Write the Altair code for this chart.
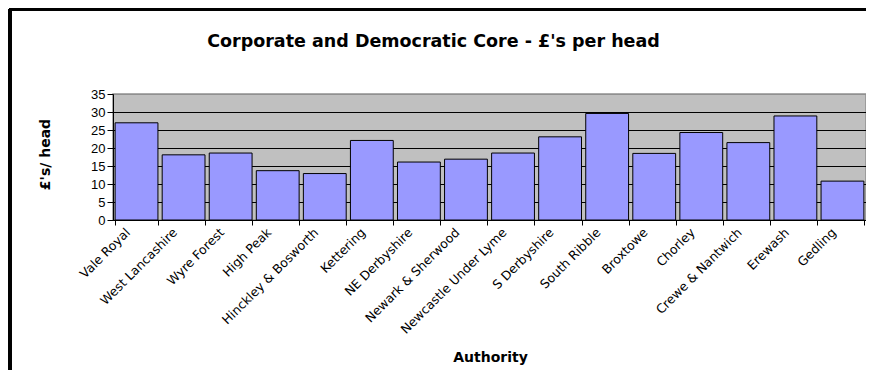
import altair as alt
import pandas as pd

authorities = ["Vale Royal", "West Lancashire", "Wyre Forest", "High Peak", "Hinckley & Bosworth",
               "Kettering", "NE Derbyshire", "Newark & Sherwood", "Newcastle Under Lyme",
               "S Derbyshire", "South Ribble", "Broxtowe", "Chorley", "Crewe & Nantwich",
               "Erewash", "Gedling"]
per_head = [27.0, 18.1, 18.6, 13.7, 12.9, 22.1, 16.1, 16.9, 18.6, 23.1, 29.6, 18.5, 24.3, 21.5, 28.9, 10.8]
y_ticks = [0, 5, 10, 15, 20, 25, 30, 35]

df = pd.DataFrame({"Authority": authorities, "Value": per_head})

FONT = "Liberation Sans"
WIDE = "DejaVu Sans"

x = alt.X("Authority:N", sort=authorities,
          scale=alt.Scale(paddingInner=0.09, paddingOuter=0.045),
          axis=alt.Axis(title="Authority", labelAngle=-45, labelAlign="right", labelBaseline="middle",
                        labelFontSize=12.5, labelFont=WIDE, labelColor="#000000", labelPadding=5,
                        labelOffset=-9,
                        tickBand="extent", tickSize=5, tickColor="#000000", domainColor="#000000",
                        titleFont=WIDE, titleFontSize=14, titleFontWeight="bold",
                        titleX=377, titleY=137, titleBaseline="middle", titleAnchor="start",
                        titleAlign="center", grid=False, labelOverlap=False))
y = alt.Y("Value:Q", scale=alt.Scale(domain=[0, 35], nice=False),
          axis=alt.Axis(title="£'s/ head", values=y_ticks, labelFontSize=13, labelFont=FONT,
                        labelColor="#000000", tickSize=6, tickColor="#000000", domainColor="#000000",
                        labelPadding=2, grid=True, gridWidth=1,
                        gridColor={"condition": {"test": "datum.value >= 35", "value": "#909090"},
                                   "value": "#000000"},
                        titleFont=WIDE, titleFontSize=14, titleFontWeight="bold",
                        titleX=-68, titleY=60, titleBaseline="middle", titleAlign="center"))

bars = alt.Chart(df).mark_bar(color="#9999FF", stroke="#000000", strokeWidth=1).encode(x=x, y=y)

border_l = alt.Chart(df).mark_rule(color="#000000", strokeWidth=2.5).encode(
    x=alt.value(-103), y=alt.value(-85), y2=alt.value(300))
border_t = alt.Chart(df).mark_rule(color="#000000", strokeWidth=2.5).encode(
    x=alt.value(-104), x2=alt.value(760), y=alt.value(-85))

chart = alt.layer(bars, border_l, border_t).properties(
    width=753, height=126,
    autosize=alt.AutoSizeParams(type="none"),
    padding={"left": 105, "top": 86, "right": 0, "bottom": 150},
    title=alt.TitleParams("Corporate and Democratic Core -  £'s per head", font=WIDE, fontSize=17.5,
                          fontWeight="bold", color="#000000", anchor="middle", dx=-56, offset=-43),
    background="#FFFFFF",
).configure_view(fill="#C0C0C0", stroke="#909090", strokeWidth=1.5)

chart.save("out.html", embed_options={"renderer": "svg", "actions": False})
